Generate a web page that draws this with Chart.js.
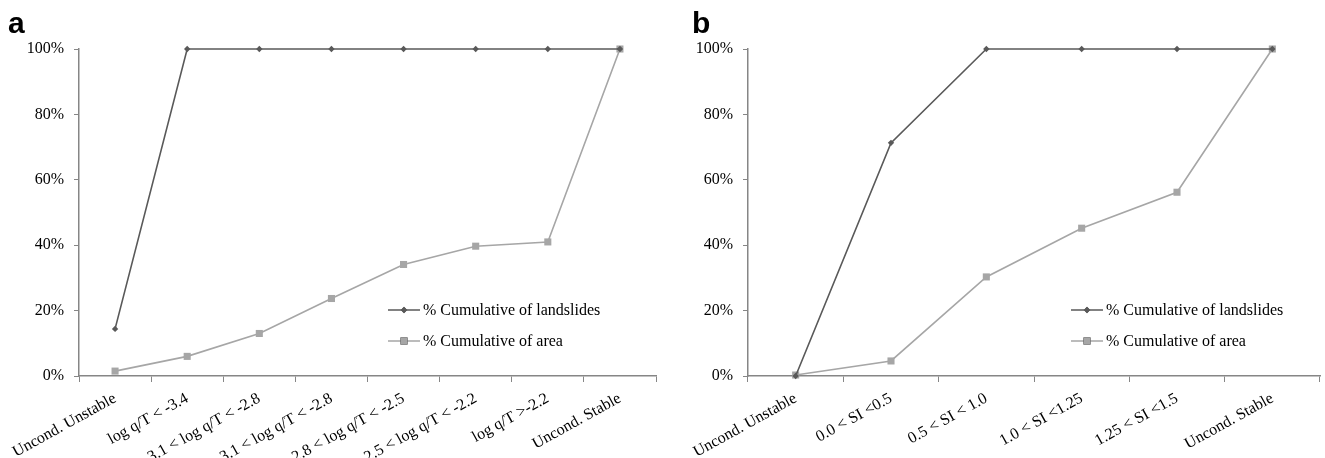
<!DOCTYPE html>
<html>
<head>
<meta charset="utf-8">
<script src="https://cdn.jsdelivr.net/npm/chart.js@4.4.0/dist/chart.umd.min.js"></script>
<style>
  html, body { margin: 0; padding: 0; background: #fff; }
  body { width: 1325px; height: 458px; position: relative; overflow: hidden; }
  .panel { position: absolute; top: 0; height: 458px; }
  .tag { position: absolute; top: 6px; font: bold 30px "Liberation Sans", Arial, sans-serif; color: #000; }
</style>
</head>
<body>
<div class="panel" style="left:0;width:662px"><canvas id="chartA"></canvas></div>
<div class="panel" style="left:662px;width:663px"><canvas id="chartB"></canvas></div>
<div class="tag" style="left:8px">a</div>
<div class="tag" style="left:692px">b</div>
<script>
// panel a
const categoriesA = [
  'Uncond. Unstable',
  'log q/T < -3.4',
  '-3.1 < log q/T < -2.8',
  '-3.1 < log q/T < -2.8',
  '-2.8 < log q/T < -2.5',
  '-2.5 < log q/T < -2.2',
  'log q/T >-2.2',
  'Uncond. Stable',
];
const landslidesA = [14.4, 100, 100, 100, 100, 100, 100, 100];
const areaA = [1.5, 6.0, 13.0, 23.7, 34.1, 39.7, 41.0, 100];

// panel b
const categoriesB = [
  'Uncond. Unstable',
  '0.0 < SI <0.5',
  '0.5 < SI < 1.0',
  '1.0 < SI <1.25',
  '1.25 < SI <1.5',
  'Uncond. Stable',
];
const landslidesB = [0, 71.3, 100, 100, 100, 100];
const areaB = [0.3, 4.6, 30.3, 45.2, 56.2, 100];

const seriesNames = ['% Cumulative of landslides', '% Cumulative of area'];

const FONT = '"Liberation Serif", "Times New Roman", serif';
const DARK = '#595959';
const LIGHT = '#a6a6a6';
const AXIS = '#868686';

// legend drawn inside the plot area
const innerLegend = {
  id: 'innerLegend',
  afterDraw(chart, args, opts) {
    const ctx = chart.ctx;
    ctx.save();
    chart.data.datasets.forEach((ds, i) => {
      const y = opts.y + i * 31;
      const x = opts.x;
      ctx.strokeStyle = ds.borderColor;
      ctx.lineWidth = 1.5;
      ctx.beginPath();
      ctx.moveTo(x, y);
      ctx.lineTo(x + 32, y);
      ctx.stroke();
      Chart.helpers.drawPoint(ctx, {
        pointStyle: ds.pointStyle,
        radius: ds.pointRadius,
        rotation: 0,
        borderWidth: 0,
      }, x + 16, y);
      ctx.fillStyle = ds.pointBackgroundColor;
      ctx.fill();
      ctx.fillStyle = '#000';
      ctx.font = '16px ' + FONT;
      ctx.textBaseline = 'middle';
      ctx.textAlign = 'left';
      ctx.fillText(ds.label, x + 35, y + 1);
    });
    ctx.restore();
  },
};

function makeChart(id, labels, landslides, area, yWidth, legendPos, padRight) {
  return new Chart(document.getElementById(id), {
    type: 'line',
    data: {
      labels: labels,
      datasets: [
        {
          label: seriesNames[0],
          data: landslides,
          borderColor: DARK,
          backgroundColor: DARK,
          pointBackgroundColor: DARK,
          pointBorderColor: DARK,
          pointStyle: 'rectRot',
          pointRadius: 3.2,
          pointBorderWidth: 0,
          borderWidth: 1.6,
          tension: 0,
          clip: false,
        },
        {
          label: seriesNames[1],
          data: area,
          borderColor: LIGHT,
          backgroundColor: LIGHT,
          pointBackgroundColor: LIGHT,
          pointBorderColor: LIGHT,
          pointStyle: 'rect',
          pointRadius: 5,
          pointBorderWidth: 0,
          borderWidth: 1.6,
          tension: 0,
          clip: false,
        },
      ],
    },
    options: {
      responsive: true,
      maintainAspectRatio: false,
      animation: false,
      layout: { padding: { top: 49, right: padRight, left: 0, bottom: 0 } },
      plugins: {
        legend: { display: false },
        tooltip: { enabled: false },
        innerLegend: legendPos,
      },
      scales: {
        x: {
          offset: true,
          grid: {
            offset: true,
            drawOnChartArea: false,
            tickLength: 6,
            color: AXIS,
            tickColor: AXIS,
          },
          border: { color: AXIS, width: 1.5 },
          ticks: {
            autoSkip: false,
            minRotation: 29,
            maxRotation: 29,
            padding: 7,
            color: '#000',
            font: { family: FONT, size: 16 },
          },
          afterFit(scale) { scale.height = 82; },
        },
        y: {
          min: 0,
          max: 100,
          grid: {
            drawOnChartArea: false,
            tickLength: 5,
            color: AXIS,
            tickColor: AXIS,
          },
          border: { color: AXIS, width: 1.5 },
          ticks: {
            stepSize: 20,
            padding: 10,
            color: '#000',
            font: { family: FONT, size: 16 },
            callback: (v) => v + '%',
          },
          afterFit(scale) { scale.width = yWidth; },
        },
      },
    },
    plugins: [innerLegend],
  });
}

makeChart('chartA', categoriesA, landslidesA, areaA, 79, { x: 388, y: 310 }, 6);
makeChart('chartB', categoriesB, landslidesB, areaB, 86, { x: 409, y: 310 }, 2);
</script>
</body>
</html>
